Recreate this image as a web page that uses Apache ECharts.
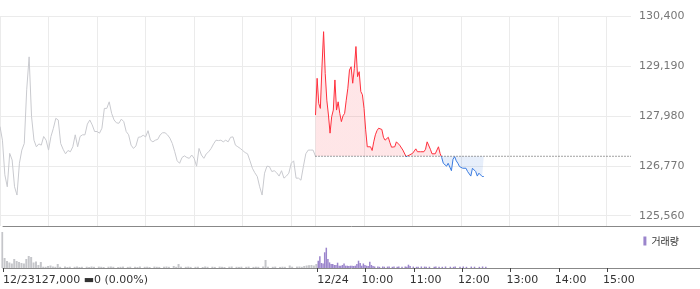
<!DOCTYPE html>
<html><head><meta charset="utf-8">
<script src="https://cdn.jsdelivr.net/npm/echarts@6/dist/echarts.min.js"></script>
<style>html,body{margin:0;padding:0;background:#fff}#c{width:700px;height:289px}</style>
</head><body><div id="c"></div>
<script>
// 12/23 price, every 3 minutes from 09:00 (minute 0) to 15:30 (minute 390)
const prevPrice = [127720,127390,126550,126260,127070,126910,126260,126060,126830,127150,
127310,128610,129410,127960,127390,127230,127300,127270,127480,127390,
127150,127480,127680,127920,127880,127310,127170,127060,127140,127110,
127230,127520,127230,127480,127520,127520,127780,127880,127760,127600,
127600,127560,127680,128160,128160,128320,128040,127880,127810,127800,
127900,127840,127600,127520,127270,127190,127250,127460,127470,127510,
127470,127620,127390,127350,127390,127410,127520,127570,127570,127520,
127440,127310,127110,126890,126830,126970,127010,126970,126950,127030,
126950,126760,127190,127030,126950,127060,127110,127190,127300,127390,
127380,127390,127350,127390,127350,127460,127470,127270,127230,127190,
127140,127090,127060,126890,126710,126600,126510,126260,126060,126590,
126760,126750,126630,126650,126600,126520,126650,126470,126520,126590,
126830,126890,126470,126470,126420,126750,127060,127150,127150,127150,127000];
// 12/24 price, every 2 minutes from 09:00 (minute 390)
const todayPrice = [128000,128890,128280,128160,129170,130020,129010,128360,128000,127560,
127960,128120,128850,128120,128320,128040,127840,127980,128040,128360,
128650,129090,129170,128770,129130,129660,128930,129050,128570,128490,
128160,127640,127230,127190,127230,127140,127350,127520,127620,127680,
127640,127650,127460,127390,127410,127460,127330,127220,127230,127230,
127350,127350,127270,127230,127150,127110,126990,127010,127030,127030,
127070,127110,127180,127110,127150,127110,127110,127110,127170,127350,
127310,127170,127060,127070,127060,127070,127230,127070,126970,126830,
126850,126760,126830,126790,126650,126930,126990,126890,126830,126750,
126710,126710,126710,126710,126630,126590,126520,126710,126750,126630,
126520,126590,126550,126510,126510];
const basePrice = 127000;
// volume (relative units)
const prevVol = [3600,1000,700,550,450,900,700,600,500,450,900,1200,1100,550,650,300,600,130,120,200,250,150,120,400,
120,0,150,100,130,0,120,150,100,120,0,130,100,150,120,0,140,
120,100,0,130,150,120,0,100,120,140,0,110,130,0,120,100,150,0,120,130,
100,0,140,120,110,0,130,150,120,0,200,120,400,130,0,120,140,110,0,120,
130,0,100,150,120,0,130,110,0,140,120,100,0,130,150,0,120,110,130,0,
120,140,0,110,130,120,0,150,800,130,0,120,140,0,110,130,120,0,250,130,
0,140,150,120,200,250,280,300,250,400];
const todayVol = [730,1170,500,450,1570,2030,900,560,400,400,300,300,530,230,230,300,450,230,230,200,230,230,200,230,400,730,500,230,450,300,230,200,630,300,200,
150,0,160,120,0,150,130,0,140,160,0,120,150,0,130,140,0,120,0,150,
130,330,200,0,140,0,120,130,0,150,0,140,120,0,130,0,0,120,140,0,
130,0,120,0,150,0,0,130,0,120,140,0,0,130,0,150,0,120,0,0,140,0,130,0,0,120,0,150,0,130];
const yTicks = [125560,126770,127980,129190,130400];
const gridMinutes = [0,60,120,180,240,300,360,390,450,510,570,630,690,750];
const volTickMinutes = [0,390,450,510,570,630,690,750];
const xLabels = ['12/23127,000 ▬0 (0.00%)','12/24','10:00','11:00','12:00','13:00','14:00','15:00'];
const xLabelMinutes = [0,390,445,505,565,625,685,745];

const prevSeries = prevPrice.map((v,i)=>[i*3,v]);
const todaySeries = todayPrice.map((v,k)=>[390+k*2,v]);
const prevVolSeries = prevVol.map((v,i)=>[i*3,v]);
const todayVolSeries = todayVol.map((v,k)=>[390+k*2,v]);

const W = 631;
const volMax = 780*700/W;
const font = 'DejaVu Sans';
const chart = echarts.init(document.getElementById('c'));
chart.setOption({
  animation:false,
  grid:[{left:0,width:W,top:16,height:210},{left:0,right:0,top:226,height:42}],
  legend:{data:['거래량'],right:16,top:231,icon:'rect',itemWidth:3,itemHeight:9,
    textStyle:{fontSize:10,color:'#333',fontFamily:'Noto Sans CJK KR'}},
  xAxis:[
    {type:'value',gridIndex:0,min:0,max:780,axisLine:{show:false},
     axisTick:{show:false,customValues:gridMinutes},axisLabel:{show:false,customValues:gridMinutes},
     splitLine:{show:true,lineStyle:{color:'#ebebeb',width:1}}},
    {type:'value',gridIndex:1,min:0,max:volMax,position:'bottom',
     axisLine:{show:true,lineStyle:{color:'#888',width:1}},
     axisTick:{show:true,customValues:volTickMinutes,length:4,lineStyle:{color:'#444'}},
     axisLabel:{customValues:xLabelMinutes,align:'left',margin:7,color:'#333',fontSize:11,fontFamily:font,
       formatter:v=>{const i=xLabelMinutes.indexOf(v);return i>=0?xLabels[i]:'';}},
     splitLine:{show:false}},
    {type:'value',gridIndex:1,min:0,max:volMax,position:'top',
     axisLine:{show:true,lineStyle:{color:'#888',width:1}},axisTick:{show:false},axisLabel:{show:false},splitLine:{show:false}}
  ],
  yAxis:[
    {type:'value',gridIndex:0,position:'right',min:125310,max:130400,axisLine:{show:false},
     axisTick:{show:false,customValues:yTicks},
     axisLabel:{customValues:yTicks,margin:8,color:'#777',fontSize:11,fontFamily:font,
       formatter:v=>v.toLocaleString('en-US')},
     splitLine:{show:true,lineStyle:{color:'#ebebeb',width:1}}},
    {type:'value',gridIndex:1,min:0,max:4200,show:false}
  ],
  visualMap:{show:false,type:'piecewise',seriesIndex:1,dimension:1,
    pieces:[{gt:basePrice,lte:140000,color:'#ff2f3c'},{gte:110000,lte:basePrice,color:'#3a7be0'}]},
  series:[
    {name:'prev',type:'line',xAxisIndex:0,yAxisIndex:0,data:prevSeries,showSymbol:false,symbol:'none',
     lineStyle:{color:'#c9cacf',width:1},itemStyle:{color:'#c9cacf'}},
    {name:'today',type:'line',xAxisIndex:0,yAxisIndex:0,data:todaySeries,showSymbol:false,symbol:'none',
     lineStyle:{width:1},areaStyle:{origin:basePrice,opacity:0.12}},
    {name:'base',type:'line',xAxisIndex:0,yAxisIndex:0,data:[[390,basePrice],[780,basePrice]],symbol:'none',
     lineStyle:{color:'#444',width:1,type:[1,2]},itemStyle:{color:'#444'},silent:true},
    {name:'prevVol',type:'bar',xAxisIndex:1,yAxisIndex:1,data:prevVolSeries,barWidth:2,itemStyle:{color:'#c5c6ca'}},
    {name:'거래량',type:'bar',xAxisIndex:1,yAxisIndex:1,data:todayVolSeries,barWidth:1.5,itemStyle:{color:'#9b85cc'}}
  ]
});
</script></body></html>
